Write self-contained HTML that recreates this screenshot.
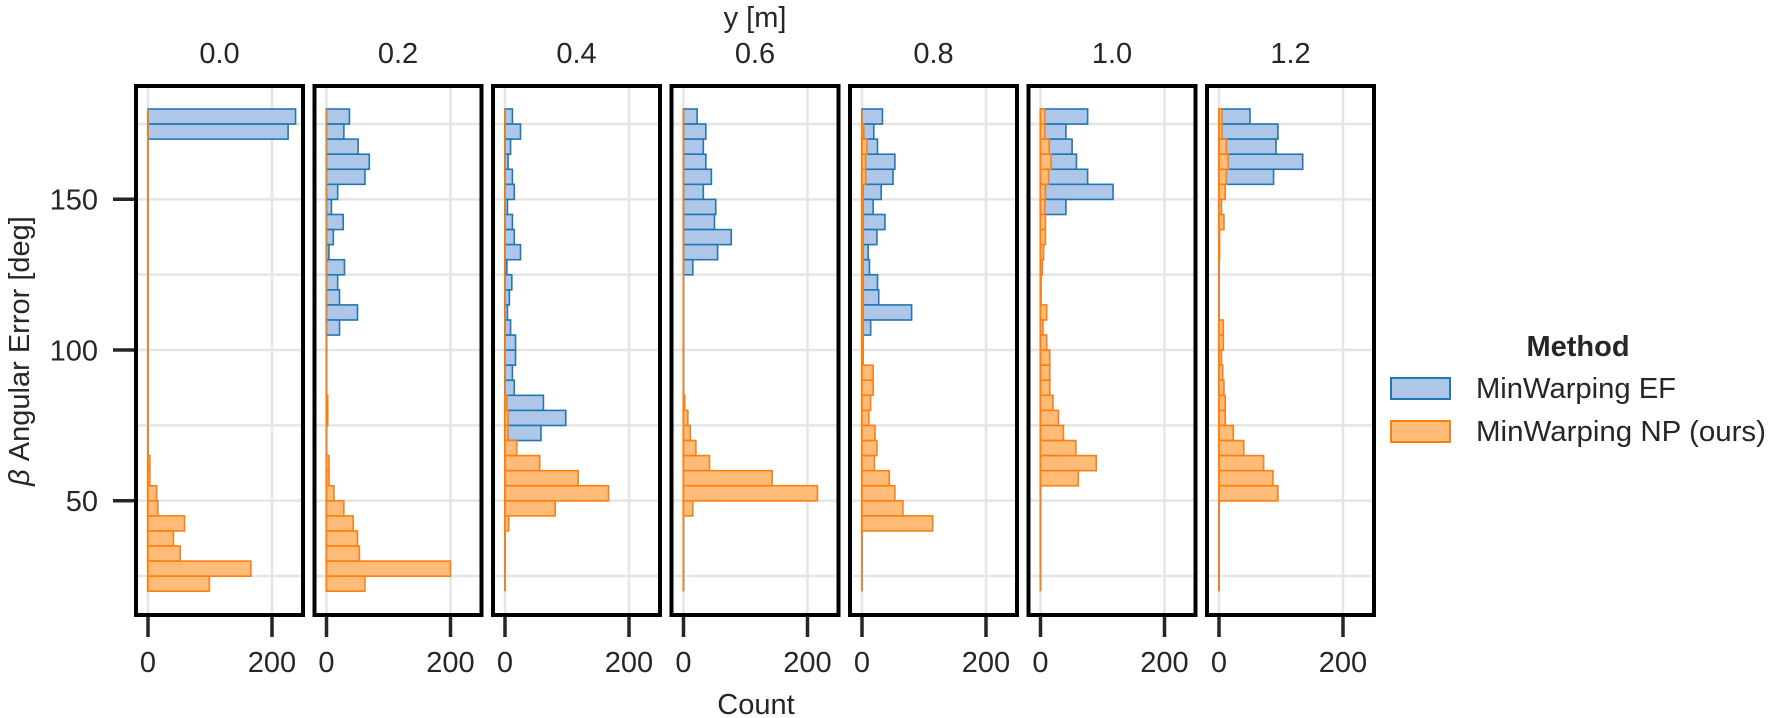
<!DOCTYPE html>
<html><head><meta charset="utf-8"><style>
html,body{margin:0;padding:0;background:#fff;}
svg{display:block;font-family:"Liberation Sans",Arial,sans-serif;}
</style></head><body>
<svg id="s" width="1769" height="718" viewBox="0 0 1769 718" xmlns="http://www.w3.org/2000/svg">
<g id="grid"></g><g id="bars"></g><g id="frames"></g>
<g font-size="29" fill="#262626">
<text x="755" y="27" text-anchor="middle">y [m]</text>
<text x="219.5" y="63" text-anchor="middle">0.0</text>
<text x="398" y="63" text-anchor="middle">0.2</text>
<text x="576.5" y="63" text-anchor="middle">0.4</text>
<text x="755" y="63" text-anchor="middle">0.6</text>
<text x="933.5" y="63" text-anchor="middle">0.8</text>
<text x="1112" y="63" text-anchor="middle">1.0</text>
<text x="1290.5" y="63" text-anchor="middle">1.2</text>
<text x="98" y="209.5" text-anchor="end">150</text>
<text x="98" y="360.5" text-anchor="end">100</text>
<text x="98" y="511" text-anchor="end">50</text>
<text x="29" y="351" text-anchor="middle" transform="rotate(-90 29 351)"><tspan font-style="italic">β</tspan> Angular Error [deg]</text>
<text x="756" y="714" text-anchor="middle">Count</text>
<g id="xl"></g>
<text x="1578" y="356" text-anchor="middle" font-weight="bold">Method</text>
<rect x="1391" y="378" width="59" height="21" fill="#aec7e8" stroke="#1f77b4" stroke-width="2"/>
<rect x="1391" y="421" width="59" height="21" fill="#ffbb78" stroke="#ff7f0e" stroke-width="2"/>
<text x="1476" y="398" textLength="200" lengthAdjust="spacingAndGlyphs">MinWarping EF</text>
<text x="1476" y="441" textLength="290" lengthAdjust="spacingAndGlyphs">MinWarping NP (ours)</text>
</g>
<g stroke="#262626" stroke-width="3.5">
<line x1="113" y1="199.3" x2="134" y2="199.3"/>
<line x1="113" y1="350" x2="134" y2="350"/>
<line x1="113" y1="500.7" x2="134" y2="500.7"/>
</g>
<g id="xt" stroke="#262626" stroke-width="3.5"></g>
</svg>
<script>
var NS="http://www.w3.org/2000/svg";
function el(p,t,a){var e=document.createElementNS(NS,t);for(var k in a)e.setAttribute(k,a[k]);document.getElementById(p).appendChild(e);return e;}
function arr(m){var a=[];for(var i=0;i<32;i++)a.push(m[i]||0);return a;}
function seq(start,vals){var m={};for(var i=0;i<vals.length;i++)m[start+i]=vals[i];return m;}
var blue=[
 arr(seq(0,[238,226])),
 arr(seq(0,[37,28,51,69,62,18,8,27,11,4,29,18,21,50,21])),
 arr(seq(0,[12,25,9,5,12,15,4,12,15,25,3,11,7,4,9,17,17,12,15,62,98,58])),
 arr(seq(0,[22,36,32,36,45,32,52,50,77,55,15])),
 arr(seq(0,[33,19,25,53,50,31,18,37,24,10,12,25,27,80,14])),
 arr(seq(0,[76,41,51,58,76,117,41])),
 arr(seq(0,[50,95,92,135,88]))
];
var orange=[
 arr(seq(23,[3,3,14,16,59,41,52,166,99])),
 arr(Object.assign(seq(19,[2,2]),seq(23,[4,4,12,28,43,50,53,200,62]))),
 arr(seq(19,[3,5,5,19,56,118,167,81,6])),
 arr(seq(19,[2,7,11,20,42,143,216,15])),
 arr(seq(1,[3,8,6,6,2,2,2,2,2,2,2,2,2,2,2,2,18,18,14,11,21,24,20,44,53,66,114])),
 arr(seq(0,[7,7,14,17,13,8,7,8,8,5,3,1,1,10,4,10,15,15,15,20,29,37,57,90,61])),
 arr(seq(0,[5,5,12,15,12,10,4,8,1,1,0,0,0,0,7,7,4,6,8,10,10,23,40,72,87,95]))
];
var BH=15.07,Y0=109,SC=0.62;
function yv(v){return 651.3-3.013*v;}
for(var p=0;p<7;p++){
 var L=134+p*178.5, x0=L+14;
 for(var v=25;v<=175;v+=25){el("grid","line",{x1:L+4,x2:L+167,y1:yv(v),y2:yv(v),stroke:"#e5e5e5","stroke-width":2.5});}
 [x0,x0+124].forEach(function(x){el("grid","line",{x1:x,x2:x,y1:88,y2:613,stroke:"#e5e5e5","stroke-width":2.5});});
 [[blue[p],"#aec7e8","#1f77b4"],[orange[p],"#ffbb78","#ff7f0e"]].forEach(function(s){
  var d=s[0];
  el("bars","line",{x1:x0,x2:x0,y1:Y0,y2:Y0+32*BH,stroke:s[2],"stroke-width":1.6});
  for(var k=0;k<32;k++){if(d[k]>0){el("bars","rect",{x:x0,y:Y0+k*BH,width:d[k]*SC,height:BH,fill:s[1],stroke:s[2],"stroke-width":1.6});}}
 });
 el("frames","rect",{x:L+2,y:86,width:167,height:529,fill:"none",stroke:"#000","stroke-width":4});
 [x0,x0+124].forEach(function(x,i){
  el("xt","line",{x1:x,x2:x,y1:617,y2:637});
  var t=el("xl","text",{x:x,y:672,"text-anchor":"middle"});t.textContent=i?"200":"0";
 });
}
</script>
</body></html>
